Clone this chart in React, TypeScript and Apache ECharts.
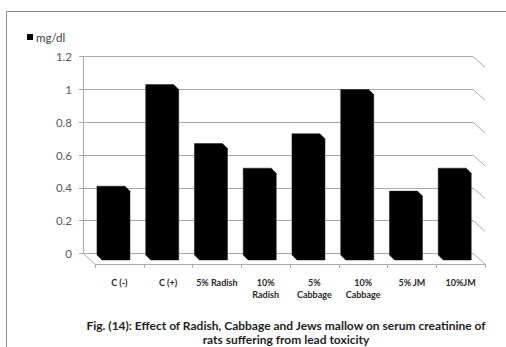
import React, { useEffect, useRef } from "react";
import * as echarts from "echarts";

// Serum creatinine (mg/dl) per treatment group
const categories = [
  "C (-)",
  "C (+)",
  "5% Radish",
  "10%\nRadish",
  "5%\nCabbage",
  "10%\nCabbage",
  "5% JM",
  "10%JM",
];
const creatinine = [0.42, 1.04, 0.68, 0.53, 0.74, 1.01, 0.39, 0.53];
const yTicks = [0, 0.2, 0.4, 0.6, 0.8, 1, 1.2];
const seriesName = "mg/dl";
const captionLines = [
  "Fig. (14): Effect of Radish, Cabbage and Jews mallow on serum creatinine of",
  "rats suffering from lead toxicity",
];

const FONT = "Lato, 'Open Sans', sans-serif";
const GRID_GREY = "#ababab";
// depth of the 3-D floor (back wall -> front edge)
const DEPTH_X = 12;
const DEPTH_Y = 10.7;

export default function App() {
  const ref = useRef<HTMLDivElement>(null);

  useEffect(() => {
    if (!ref.current) return;
    const chart = echarts.init(ref.current, undefined, { renderer: "svg" });

    const option: any = {
      animation: false,
      backgroundColor: "#ffffff",
      textStyle: { fontFamily: FONT },
      title: {
        text: captionLines.join("\n"),
        left: 286,
        top: 319,
        textAlign: "center",
        padding: 0,
        textStyle: {
          fontFamily: FONT,
          fontSize: 12,
          fontWeight: "bold",
          color: "#1e1e1e",
          lineHeight: 13.5,
        },
      },
      legend: {
        data: [seriesName],
        left: 27,
        top: 31,
        padding: 0,
        icon: "rect",
        itemWidth: 6,
        itemHeight: 6,
        textStyle: { fontFamily: FONT, fontSize: 11.5, color: "#404040", padding: [0, 0, 0, -2] },
      },
      grid: [
        // back wall
        { left: 83, right: 33, top: 56.7, bottom: 93.7 },
        // front edge of the floor
        { left: 83 + DEPTH_X, right: 33 - DEPTH_X, top: 56.7 + DEPTH_Y, bottom: 93.7 - DEPTH_Y },
      ],
      xAxis: [
        {
          type: "category",
          gridIndex: 0,
          data: categories,
          axisLine: { show: false },
          axisTick: { show: false },
          axisLabel: { show: false },
        },
        {
          type: "category",
          gridIndex: 1,
          data: categories,
          axisLine: { show: true, lineStyle: { color: GRID_GREY, width: 1 } },
          axisTick: { show: true, length: 4, lineStyle: { color: GRID_GREY } },
          axisLabel: {
            interval: 0,
            margin: 12,
            fontFamily: FONT,
            fontSize: 9,
            fontWeight: "bold",
            color: "#2a2a2a",
            lineHeight: 12,
          },
        },
      ],
      yAxis: [
        {
          type: "value",
          gridIndex: 0,
          min: 0,
          max: 1.2,
          interval: 0.2,
          axisLine: { show: true, lineStyle: { color: GRID_GREY } },
          axisTick: { show: true, length: 4, lineStyle: { color: GRID_GREY } },
          axisLabel: {
            margin: 11,
            fontFamily: FONT,
            fontSize: 11.5,
            color: "#595959",
            formatter: (v: number) => String(Math.round(v * 10) / 10),
          },
          splitLine: { show: true, lineStyle: { color: GRID_GREY, width: 1 } },
        },
        { type: "value", gridIndex: 1, show: false, min: 0, max: 1.2 },
      ],
      series: [
        {
          // side-wall stubs of each gridline plus the floor's left edge
          type: "custom",
          xAxisIndex: 0,
          yAxisIndex: 0,
          silent: true,
          clip: false,
          data: yTicks.map((v) => [0, v]),
          renderItem: (params: any, api: any) => {
            const cs = params.coordSys;
            const y = api.coord([0, api.value(1)])[1];
            const xr = cs.x + cs.width;
            const children: any[] = [
              {
                type: "line",
                shape: { x1: xr, y1: y, x2: xr + DEPTH_X, y2: y + DEPTH_Y },
                style: { stroke: GRID_GREY, lineWidth: 1 },
              },
            ];
            if (api.value(1) === 0) {
              children.push({
                type: "line",
                shape: { x1: cs.x, y1: y, x2: cs.x + DEPTH_X, y2: y + DEPTH_Y },
                style: { stroke: GRID_GREY, lineWidth: 1 },
              });
            }
            return { type: "group", children };
          },
        },
        {
          name: seriesName,
          type: "custom",
          xAxisIndex: 0,
          yAxisIndex: 0,
          clip: false,
          itemStyle: { color: "#000000" },
          data: creatinine.map((v, i) => [i, v]),
          renderItem: (params: any, api: any) => {
            const i = api.value(0);
            const v = api.value(1);
            const base = api.coord([i, 0]);
            const top = api.coord([i, v]);
            const bw = api.size([1, 0])[0] * 0.575;
            const d = 5;
            const x0 = base[0] + 3.6 - bw / 2;
            const x1 = x0 + bw;
            const yt = top[1] + 1.7;
            const yb = base[1] + 1.7;
            return {
              type: "polygon",
              shape: {
                points: [
                  [x0, yt],
                  [x1, yt],
                  [x1 + d, yt + d],
                  [x1 + d, yb + d],
                  [x0 + d, yb + d],
                  [x0, yb],
                ],
              },
              style: { fill: "#000000", stroke: "#1a1a1a", lineWidth: 0.5 },
            };
          },
        },
      ],
      graphic: [
        {
          type: "rect",
          silent: true,
          shape: { x: 6.5, y: 11.5, width: 620, height: 420 },
          style: { fill: "none", stroke: "#8a8a8a", lineWidth: 1 },
        },
      ],
    };

    chart.setOption(option);
    return () => chart.dispose();
  }, []);

  return (
    <div
      ref={ref}
      style={{ position: "fixed", left: 0, top: 0, width: 506, height: 347, background: "#fff" }}
    />
  );
}
